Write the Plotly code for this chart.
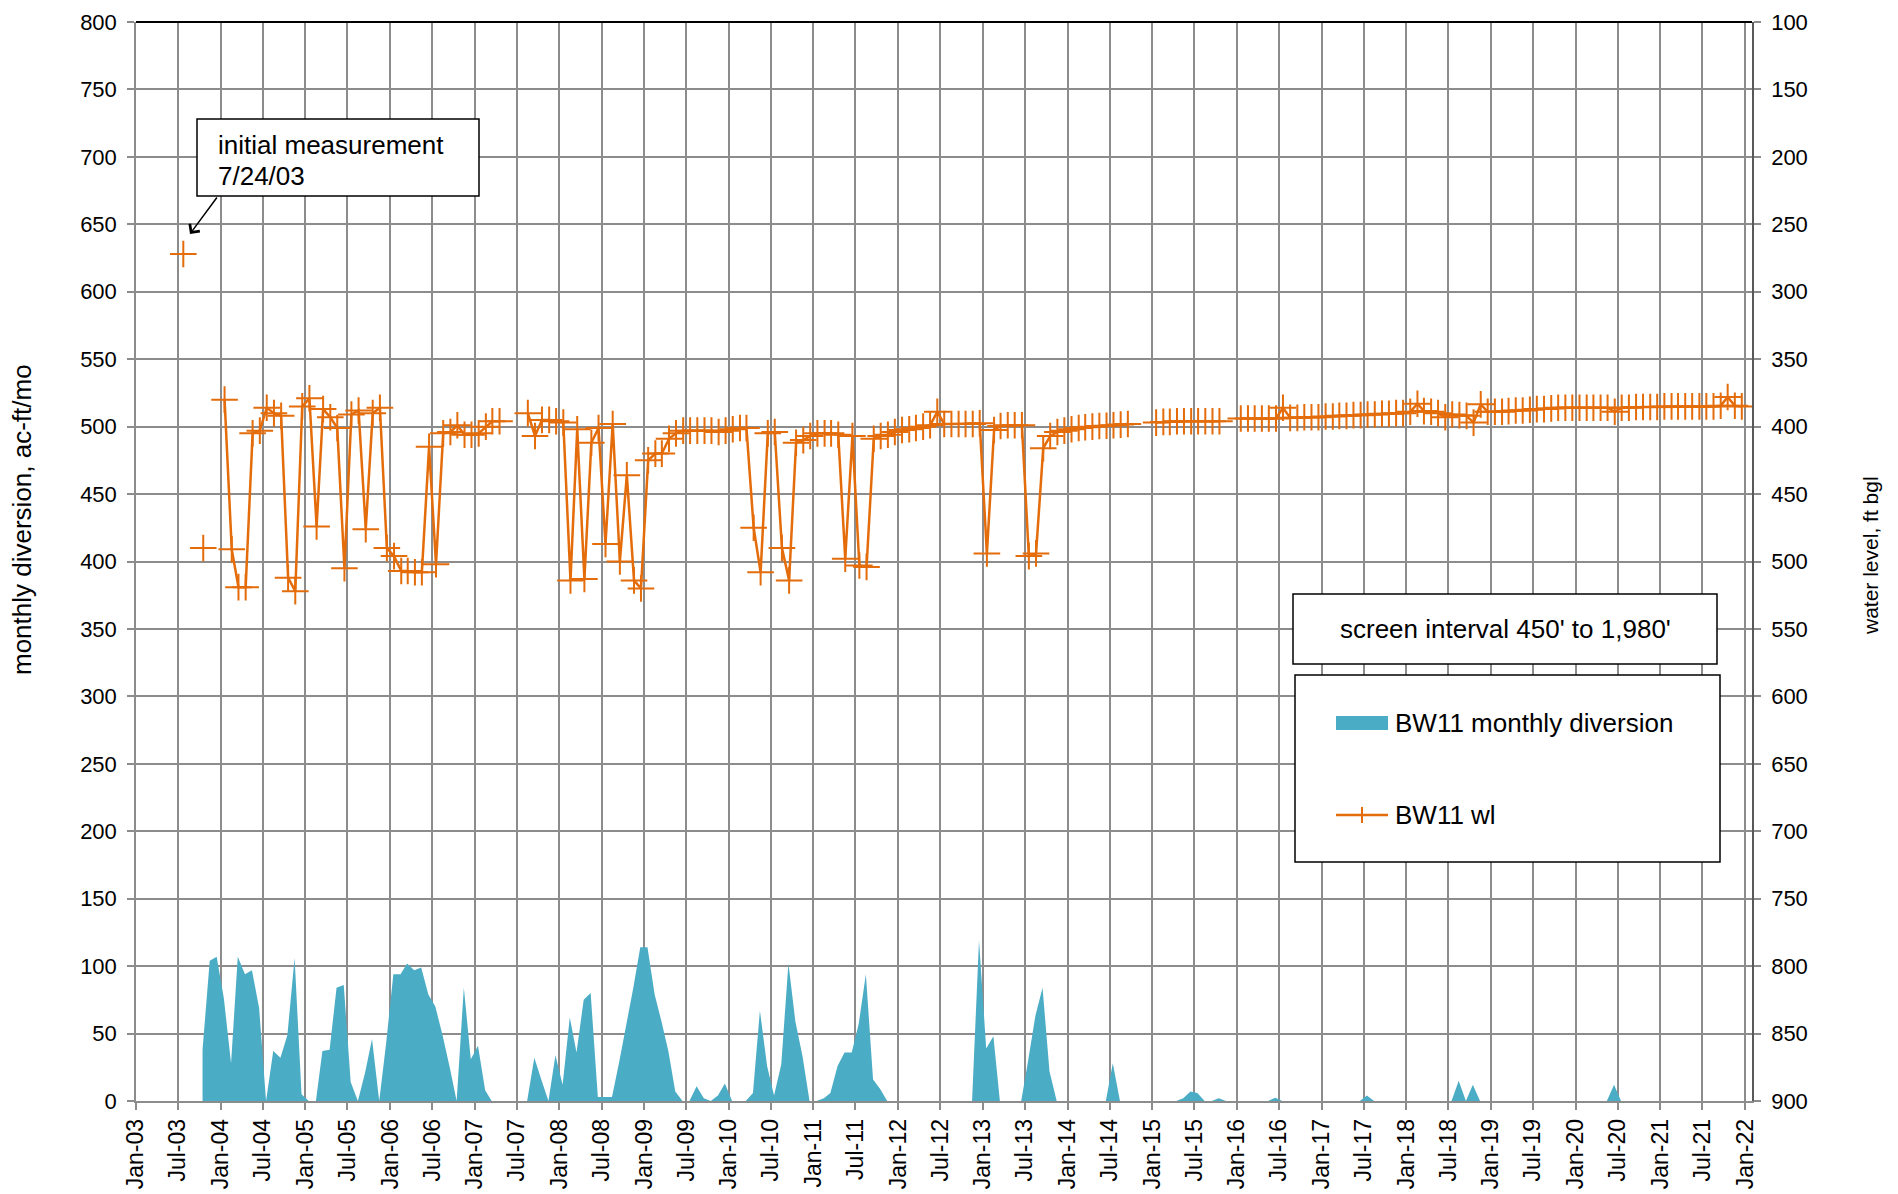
import plotly.graph_objects as go
import pandas as pd

# ---------------- data ----------------
# monthly diversion (ac-ft/mo), one value per month from Oct-2003 to Dec-2021
div_start = "2003-10-01"
diversion = (
    [38, 104, 107]                                                   # 2003 Oct-Dec
    + [76, 28, 107, 94, 97, 69, 0, 37, 32, 49, 106, 5]                # 2004
    + [0, 0, 37, 38, 84, 86, 14, 0, 21, 46, 0, 43]                    # 2005
    + [94, 94, 102, 97, 99, 79, 70, 49, 25, 0, 84, 31]                # 2006
    + [41, 8, 0, 0, 0, 0, 0, 0, 32, 16, 0, 34]                        # 2007
    + [12, 62, 36, 75, 80, 3, 3, 3, 29, 56, 84, 114]                  # 2008
    + [114, 79, 60, 37, 7, 0, 0, 11, 2, 0, 4, 13]                     # 2009
    + [0, 0, 0, 6, 67, 26, 4, 27, 102, 59, 33, 0]                     # 2010
    + [0, 2, 6, 26, 36, 36, 57, 94, 16, 9, 0, 0]                      # 2011
    + [0, 0, 0, 0, 0, 0, 0, 0, 0, 0, 0, 119]                          # 2012
    + [39, 48, 0, 0, 0, 0, 30, 63, 84, 22, 0, 0]                      # 2013
    + [0, 0, 0, 0, 0, 0, 28, 0, 0, 0, 0, 0]                           # 2014
    + [0, 0, 0, 0, 2, 7, 6, 0, 0, 2, 0, 0]                            # 2015
    + [0, 0, 0, 0, 0, 2.5, 0, 0, 0, 0, 0, 0]                          # 2016
    + [0, 0, 0, 0, 0, 0, 4, 0, 0, 0, 0, 0]                            # 2017
    + [0, 0, 0, 0, 0, 0, 0, 15, 0, 12, 0, 0]                          # 2018
    + [0, 0, 0, 0, 0, 0, 0, 0, 0, 0, 0, 0]                            # 2019
    + [0, 0, 0, 0, 0, 12, 0, 0, 0, 0, 0, 0]                           # 2020
    + [0, 0, 0, 0, 0, 0, 0, 0, 0, 0, 0, 0]                            # 2021
)

# monthly water level (ft bgl), Jul-2003 to Dec-2021, None = no measurement
wl_start = "2003-07-01"
initial_date = "2003-07-24"
water_level = (
    [272, None, None, 490, None, None]                                              # 2003 Jul-Dec
    + [380, 491, 519, 519, 405, 403, 386, 390, 392, 512, 522, 385]                  # 2004
    + [379, 474, 387, 393, 401, 505, 391, 388, 476, 390, 386, 490]                  # 2005
    + [496, 507, 507, 508, 508, 415, 502, 405, 404, 399, 406, 406]                  # 2006
    + [405, 400, 396, 396, None, None, None, 390, 407, 395, 395, 396]               # 2007
    + [397, 514, 402, 513, 412, 401, 487, 398, 500, 436, 514, 520]                  # 2008
    + [425, 420, 420, 409, 405, 403, 403, 403, 403, 403, 404, 403]                  # 2009
    + [402, 401, 401, 475, 508, 405, 404, 490, 514, 412, 410, 407]                  # 2010
    + [405, 405, 405, 406, 498, 407, 503, 504, 409, 407, 406, 404]                  # 2011
    + [402.5, 402, 401, 400, 399, 389, 398, 398, 398, 398, 398, 397.5]              # 2012
    + [494, 402.5, 399.5, 399, 399, 399, 496, 494, 416, 407, 404, 403]              # 2013
    + [402, 401, 400.5, 400, 399.5, 399.3, 399, 398.5, 398, None, None, None]       # 2014
    + [397, 396.5, 396.5, 396, 396, 396, 396, 396, 396, 396, None, None]            # 2015
    + [394, 394, 394, 394, 394, 394, 386, 393.5, 393.5, 393, 393, 393]              # 2016
    + [392.5, 392.5, 392, 392, 391.5, 391.5, 391, 391, 390.5, 390.5, 390, 390]      # 2017
    + [389, 383, 388.5, 389, 390, 393, 391, 391.5, 392, 397, 383.5, 389]            # 2018
    + [389, 389, 388.5, 388, 388, 387.5, 387, 387, 386.5, 386, 386, 386]            # 2019
    + [386, 386, 386, 386, 386, 389, 386, 386, 385.5, 385.5, 385.5, 385.5]          # 2020
    + [385, 385, 385, 385, 385, 385, 385, 385, 384.5, 378, 384.5, 385]              # 2021
)

div_dates = pd.date_range(div_start, periods=len(diversion), freq="MS") + pd.Timedelta(days=14)
wl_dates = list(pd.date_range(wl_start, periods=len(water_level), freq="MS") + pd.Timedelta(days=17))
wl_dates[0] = pd.Timestamp(initial_date)

# ---------------- style ----------------
W, H = 1898, 1194
PL, PR, PT, PB = 136, 1752, 22, 1101
ORANGE = "#E46C0A"
AQUA = "#4BACC6"
GRID = "#8C8C8C"
FONT = "Liberation Sans, Arial, sans-serif"


def px(x):
    return (x - PL) / (PR - PL)


def py(y):
    return (PB - y) / (PB - PT)


fig = go.Figure()
fig.add_trace(go.Scatter(
    x=div_dates, y=diversion, mode="none", fill="tozeroy",
    fillcolor=AQUA, name="BW11 monthly diversion", showlegend=False,
))
fig.add_trace(go.Scatter(
    x=wl_dates, y=water_level, yaxis="y2", mode="lines+markers",
    line=dict(color=ORANGE, width=2.5), connectgaps=False,
    marker=dict(symbol="cross-thin", size=19, line=dict(color=ORANGE, width=2), color=ORANGE),
    name="BW11 wl", showlegend=False,
))

ytickfont = dict(family=FONT, size=22, color="black")
xtickfont = dict(family=FONT, size=23, color="black")

fig.update_layout(
    width=W, height=H,
    margin=dict(l=PL, r=W - PR, t=PT, b=H - PB, pad=0, autoexpand=False),
    paper_bgcolor="white", plot_bgcolor="white",
    font=dict(family=FONT, color="black"),
    showlegend=False,
    xaxis=dict(
        type="date", range=["2003-01-01", "2022-01-31"],
        tick0="2003-01-01", dtick="M6", tickformat="%b-%y", tickangle=-90,
        showgrid=True, gridcolor=GRID, gridwidth=1.5,
        showline=True, linecolor=GRID, linewidth=1.5,
        ticks="outside", ticklen=7, tickcolor=GRID, tickwidth=1.5,
        tickfont=xtickfont, zeroline=False, ticklabelstandoff=0, automargin=False,
    ),
    yaxis=dict(
        range=[0, 800], dtick=50, tick0=0,
        showgrid=True, gridcolor=GRID, gridwidth=1.5,
        showline=True, linecolor=GRID, linewidth=1.5,
        ticks="outside", ticklen=7, tickcolor=GRID, tickwidth=1.5,
        tickfont=ytickfont, zeroline=False, ticklabelstandoff=6, automargin=False,
    ),
    yaxis2=dict(
        overlaying="y", side="right", range=[900, 100], dtick=50, tick0=100,
        showgrid=False, showline=True, linecolor="#595959", linewidth=1.5,
        ticks="outside", ticklen=7, tickcolor=GRID, tickwidth=1.5,
        tickfont=ytickfont, zeroline=False, ticklabelstandoff=6, automargin=False,
    ),
)

shapes = []
annotations = []

# top border
shapes.append(dict(type="line", xref="paper", yref="paper", x0=0, x1=1, y0=1, y1=1,
                   line=dict(color="black", width=2), layer="above"))

# axis titles
annotations.append(dict(text="monthly diversion, ac-ft/mo", xref="paper", yref="paper",
                        x=px(22), y=py(520), textangle=-90, showarrow=False,
                        font=dict(family=FONT, size=26, color="black"),
                        xanchor="center", yanchor="middle"))
annotations.append(dict(text="water level, ft bgl", xref="paper", yref="paper",
                        x=px(1870), y=py(556), textangle=-90, showarrow=False,
                        font=dict(family=FONT, size=21, color="black"),
                        xanchor="center", yanchor="middle"))

# initial measurement callout
shapes.append(dict(type="rect", xref="paper", yref="paper",
                   x0=px(197), x1=px(479), y0=py(196), y1=py(119),
                   line=dict(color="black", width=1.5), fillcolor="white", layer="above"))
annotations.append(dict(text="initial measurement", xref="paper", yref="paper",
                        x=px(216), y=py(145), xanchor="left", yanchor="middle", align="left",
                        showarrow=False, font=dict(family=FONT, size=26, color="black")))
annotations.append(dict(text="7/24/03", xref="paper", yref="paper",
                        x=px(216), y=py(176), xanchor="left", yanchor="middle", align="left",
                        showarrow=False, font=dict(family=FONT, size=26, color="black")))
annotations.append(dict(text="", xref="paper", yref="paper", x=px(190), y=py(234),
                        ax=28, ay=-38, showarrow=True, arrowhead=4, arrowsize=1.6,
                        arrowwidth=1.5, arrowcolor="black"))

# screen interval box
shapes.append(dict(type="rect", xref="paper", yref="paper",
                   x0=px(1293), x1=px(1717), y0=py(664), y1=py(594),
                   line=dict(color="black", width=1.5), fillcolor="white", layer="above"))
annotations.append(dict(text="screen interval 450' to 1,980'", xref="paper", yref="paper",
                        x=px(1505), y=py(629), xanchor="center", yanchor="middle",
                        showarrow=False, font=dict(family=FONT, size=26, color="black")))

# legend box (drawn manually)
shapes.append(dict(type="rect", xref="paper", yref="paper",
                   x0=px(1295), x1=px(1720), y0=py(862), y1=py(675),
                   line=dict(color="black", width=1.5), fillcolor="white", layer="above"))
shapes.append(dict(type="rect", xref="paper", yref="paper",
                   x0=px(1336), x1=px(1388), y0=py(730), y1=py(716),
                   line=dict(width=0), fillcolor=AQUA, layer="above"))
shapes.append(dict(type="line", xref="paper", yref="paper",
                   x0=px(1336), x1=px(1388), y0=py(815), y1=py(815),
                   line=dict(color=ORANGE, width=2.5), layer="above"))
shapes.append(dict(type="line", xref="paper", yref="paper",
                   x0=px(1362), x1=px(1362), y0=py(823), y1=py(807),
                   line=dict(color=ORANGE, width=2), layer="above"))
annotations.append(dict(text="BW11 monthly diversion", xref="paper", yref="paper",
                        x=px(1393), y=py(723), xanchor="left", yanchor="middle",
                        showarrow=False, font=dict(family=FONT, size=26, color="black")))
annotations.append(dict(text="BW11 wl", xref="paper", yref="paper",
                        x=px(1393), y=py(815), xanchor="left", yanchor="middle",
                        showarrow=False, font=dict(family=FONT, size=26, color="black")))

fig.update_layout(shapes=shapes, annotations=annotations)

fig.write_html("out.html", config={"displayModeBar": False},
               post_script="document.body.style.margin='0';")
